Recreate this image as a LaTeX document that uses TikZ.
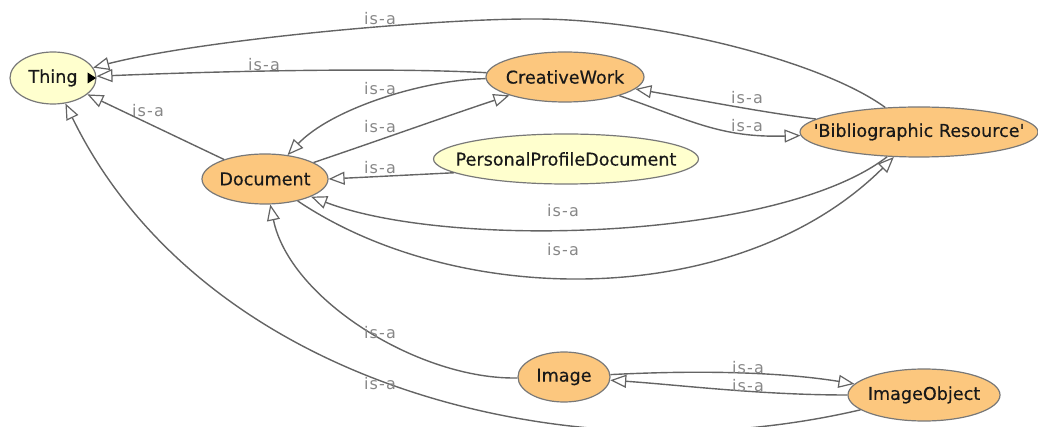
\documentclass[tikz,border=0pt]{standalone}
\usepackage{fontspec}
\setmainfont{DejaVu Sans}
\newfontfamily\nodefont[FakeBold=0.4]{DejaVu Sans}
\newfontfamily\lblfont[LetterSpace=7]{DejaVu Sans}
\usetikzlibrary{arrows.meta,shapes.geometric}
\definecolor{orangefill}{RGB}{252,199,126}
\definecolor{yellowfill}{RGB}{255,255,206}
\definecolor{nodeborder}{RGB}{120,120,120}
\definecolor{edgecol}{RGB}{100,100,100}
\definecolor{labelcol}{RGB}{135,135,135}
\definecolor{nodetext}{RGB}{25,25,25}
\newcommand{\nodetxt}[1]{\makebox[0pt]{#1}}
\begin{document}
\begin{tikzpicture}[x=1pt,y=-1pt,
  cls/.style={ellipse,draw=nodeborder,line width=1.2pt,inner sep=0pt,
    font=\nodefont\fontsize{17.6}{19}\selectfont,text=nodetext},
  orangecls/.style={cls,fill=orangefill},
  yellowcls/.style={cls,fill=yellowfill},
  isa/.style={draw=edgecol,line width=1.4pt,
    -{Triangle[length=16pt,width=13pt,fill=white,line width=1.2pt]}},
  lbl/.style={text=labelcol,font=\lblfont\fontsize{16}{17}\selectfont,inner sep=0pt}]
\useasboundingbox (0,0) rectangle (1038,427);
% nodes
\node[yellowcls,minimum width=86pt,minimum height=52pt] (thing) at (53,78) {\nodetxt{Thing}};
\node[orangecls,minimum width=158pt,minimum height=50pt] (cw) at (565,77) {\nodetxt{CreativeWork}};
\node[orangecls,minimum width=238pt,minimum height=50pt] (bib) at (919,132) {\nodetxt{\textquotesingle Bibliographic Resource\textquotesingle}};
\node[yellowcls,minimum width=265pt,minimum height=50pt] (ppd) at (566,159) {\nodetxt{PersonalProfileDocument}};
\node[orangecls,minimum width=126pt,minimum height=50pt] (doc) at (265,179) {\nodetxt{Document}};
\node[orangecls,minimum width=92pt,minimum height=50pt] (img) at (564,377) {\nodetxt{Image}};
\node[orangecls,minimum width=152pt,minimum height=52pt] (imgobj) at (924,395) {\nodetxt{ImageObject}};
\coordinate (topmid) at (530,19);
% edges
\draw[isa] (cw) .. controls (400,68) and (250,70) .. (thing) node[lbl] at (264,65) {is-a};
\draw[isa] (bib) .. controls (820,60) and (650,18) .. (topmid) .. controls (430,19) and (200,40) .. (thing) node[lbl] at (380,19) {is-a};
\draw[isa] (doc) -- (thing) node[lbl] at (148,111) {is-a};
\draw[isa] (imgobj) .. controls (560,480) and (200,380) .. (thing) node[lbl] at (380,384) {is-a};
\draw[isa] (doc) .. controls (380,140) and (450,115) .. (cw) node[lbl] at (380,127) {is-a};
\draw[isa] (cw) .. controls (420,80) and (330,110) .. (doc) node[lbl] at (380,89) {is-a};
\draw[isa] (cw) .. controls (690,120) and (720,138) .. (bib) node[lbl] at (747,126) {is-a};
\draw[isa] (bib) .. controls (760,112) and (700,100) .. (cw) node[lbl] at (747,98) {is-a};
\draw[isa] (ppd.187) -- (doc.0) node[lbl] at (380,168) {is-a};
\draw[isa] (bib) .. controls (780,240) and (450,250) .. (doc) node[lbl] at (563,211) {is-a};
\draw[isa] (doc) .. controls (460,310) and (740,310) .. (bib) node[lbl] at (563,250) {is-a};
\draw[isa] (img) .. controls (420,380) and (290,300) .. (doc) node[lbl] at (380,333) {is-a};
\draw[isa] (img) .. controls (700,370) and (780,372) .. (imgobj) node[lbl] at (748,368) {is-a};
\draw[isa] (imgobj) .. controls (760,395) and (680,385) .. (img) node[lbl] at (748,386) {is-a};
% expand marker on Thing
\fill[black] ([xshift=-9pt,yshift=5.5pt]thing.east) -- ([xshift=-9pt,yshift=-5.5pt]thing.east) -- ([xshift=-0.5pt]thing.east) -- cycle;
\end{tikzpicture}
\end{document}
